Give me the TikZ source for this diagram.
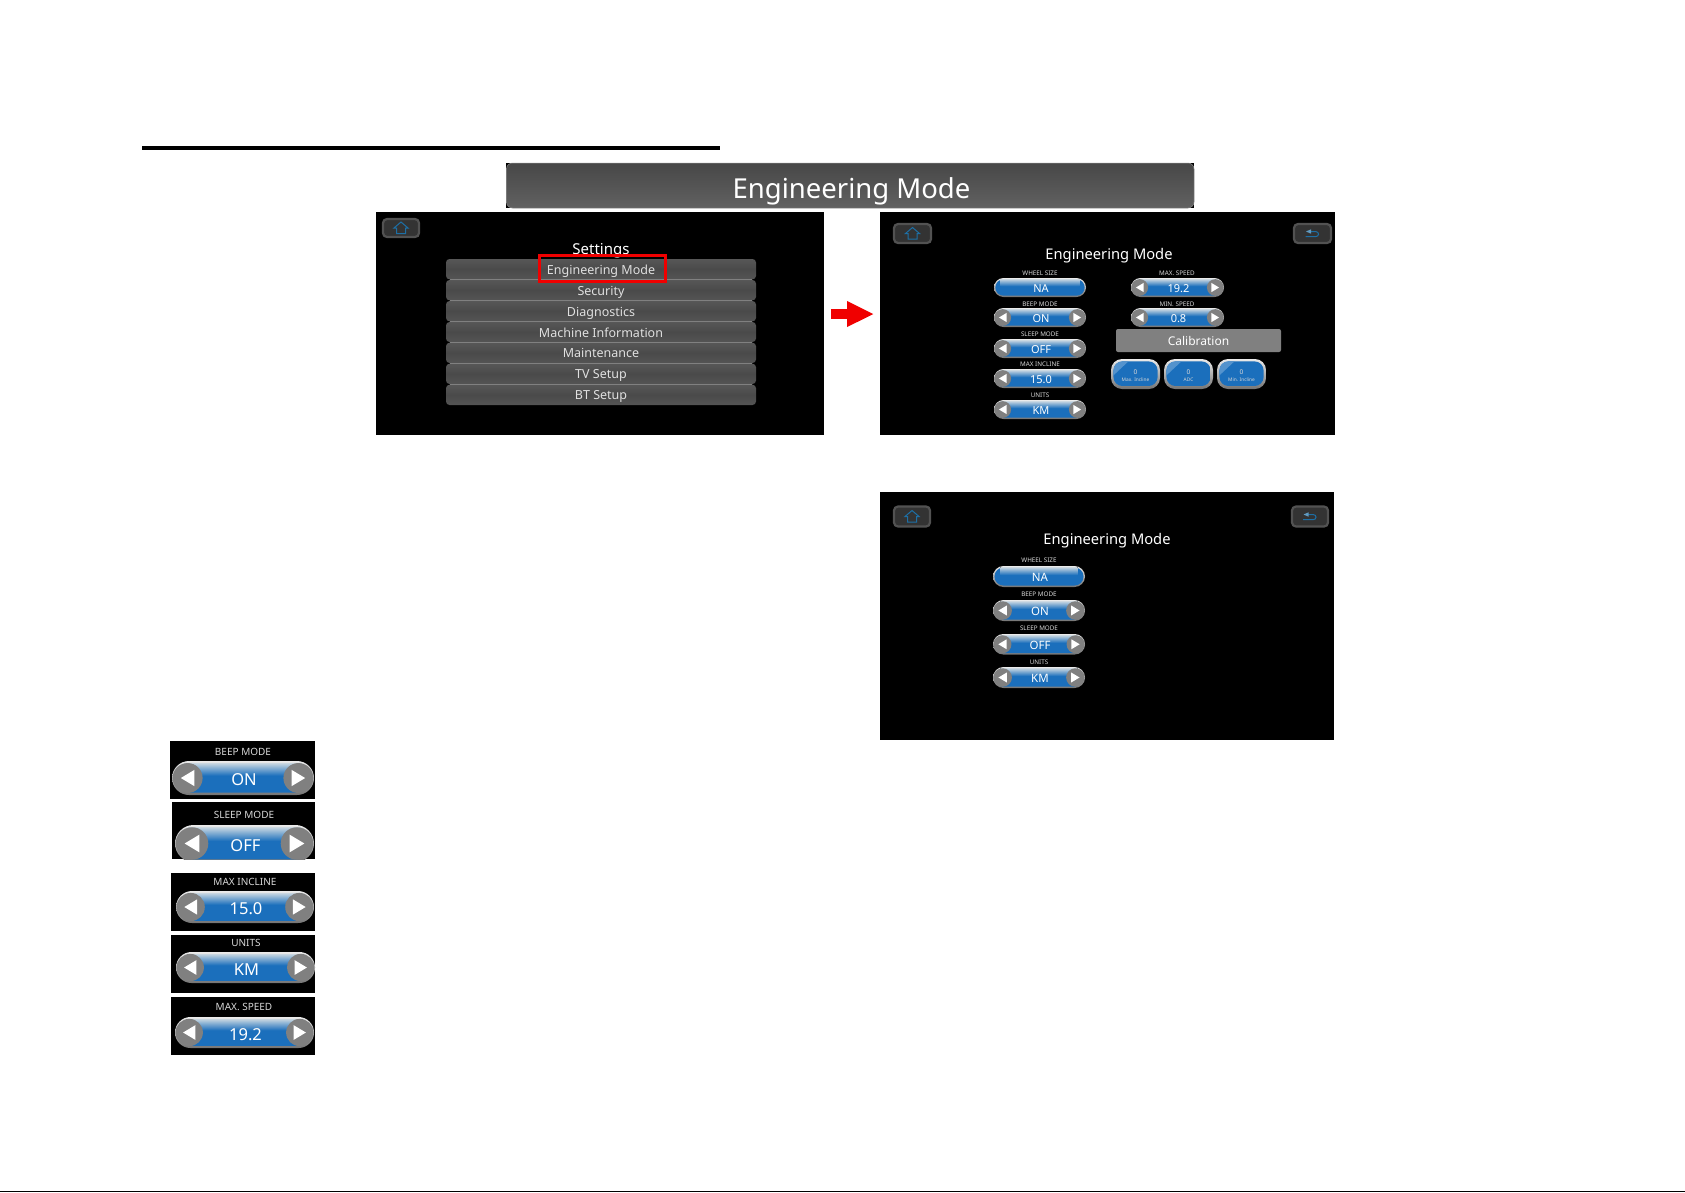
\documentclass[tikz,border=0pt]{standalone}
\usepackage{fontspec}
\setmainfont{Noto Sans}
\usetikzlibrary{arrows.meta}
\definecolor{uiblue}{HTML}{1B6FBC}
\definecolor{uihi}{HTML}{C4D4E0}
\definecolor{capgray}{HTML}{808080}
\definecolor{iconblue}{HTML}{1D6FA5}
\definecolor{lblgray}{HTML}{D8D8D8}
\definecolor{menutxt}{HTML}{E0E0E0}
\definecolor{uired}{HTML}{F00000}
\tikzset{
  screen/.style={fill=black},
  menurow/.style={rounded corners=3.5pt, top color=black!66, bottom color=black!67, middle color=black!71},
  silver/.style={top color=black!8, bottom color=black!55},
  calbar/.style={fill=capgray, rounded corners=2pt},
  keybtn/.style={fill=black!80, draw=black!68, line width=2.2pt, rounded corners=4pt},
  icon/.style={draw=iconblue, line width=1pt, line join=miter},
}
% generic box from corners: name, x1,y1,x2,y2, style, text
\newcommand{\rbox}[7][]{%
  \pgfmathsetmacro\myCx{(#3+#5)/2}\pgfmathsetmacro\myCy{(#4+#6)/2}%
  \pgfmathsetmacro\myW{#5-#3}\pgfmathsetmacro\myH{#6-#4}%
  \node[#7, minimum width=\myW pt, minimum height=\myH pt, inner sep=0pt, outer sep=0pt] (#2) at (\myCx,\myCy) {#1};}
% text on a baseline: name,x,base,size,colour,text
\newcommand{\lbl}[6]{\node[anchor=base, inner sep=0pt, text=#5, font=\fontsize{#4}{#4}\selectfont] (#1) at (#2,#3) {#6};}
% pill: name,x1,y1,x2,y2,size,text
\newcommand{\ctlpill}[7]{%
  \pgfmathsetmacro\myH{#5-#3}\pgfmathsetmacro\myR{\myH/2}\pgfmathsetmacro\myI{0.07*\myH}%
  \pgfmathsetmacro\mxA{#2+\myI}\pgfmathsetmacro\mxB{#4-\myI}\pgfmathsetmacro\myA{#3+\myI}\pgfmathsetmacro\myB{#5-\myI}%
  \pgfmathsetmacro\myRR{\myR-\myI}%
  \fill[silver, rounded corners=\myR pt] (#2,#3) rectangle (#4,#5);
  \fill[uiblue, rounded corners=\myRR pt] (\mxA,\myA) rectangle (\mxB,\myB);
  \pgfmathsetmacro\mhA{#2+0.35*\myH}\pgfmathsetmacro\mhB{#4-0.35*\myH}\pgfmathsetmacro\mhC{\myA+0.36*\myH}%
  \fill[top color=uihi, bottom color=uiblue] (\mhA,\myA) rectangle (\mhB,\mhC);
  \pgfmathsetmacro\myMx{(#2+#4)/2+1}\pgfmathsetmacro\myBase{(#3+#5)/2+0.46*#6}%
  \node[anchor=base, inner sep=0pt, text=white, font=\fontsize{#6}{#6}\selectfont] (#1) at (\myMx,\myBase) {#7};}
\newcommand{\ctlarrows}[4]{%
  \pgfmathsetmacro\myH{#4-#2}\pgfmathsetmacro\myRad{0.44*\myH}\pgfmathsetmacro\myCy{(#2+#4)/2}%
  \pgfmathsetmacro\mcL{#1+0.46*\myH}\pgfmathsetmacro\mcR{#3-0.46*\myH}%
  \pgfmathsetmacro\mtW{0.2*\myH}\pgfmathsetmacro\mtH{0.24*\myH}%
  \fill[capgray] (\mcL,\myCy) circle[radius=\myRad];
  \fill[capgray] (\mcR,\myCy) circle[radius=\myRad];
  \fill[white] (\mcL-\mtW,\myCy) -- (\mcL+\mtW,\myCy-\mtH) -- (\mcL+\mtW,\myCy+\mtH) -- cycle;
  \fill[white] (\mcR+\mtW,\myCy) -- (\mcR-\mtW,\myCy-\mtH) -- (\mcR-\mtW,\myCy+\mtH) -- cycle;}
% home / back keys: name,x1,y1,x2,y2
\newcommand{\homekey}[5]{%
  \rbox{#1}{#2}{#3}{#4}{#5}{keybtn}
  \begin{scope}[shift={(#1.center)}]
    \draw[icon] (0,-6) -- (7,0) -- (4.5,0) -- (4.5,5.5) -- (-4.5,5.5) -- (-4.5,0) -- (-7,0) -- cycle;
  \end{scope}}
\newcommand{\backkey}[5]{%
  \rbox{#1}{#2}{#3}{#4}{#5}{keybtn}
  \begin{scope}[shift={(#1.center)}]
    \draw[iconblue, line width=1pt] (-2,-2) -- (3,-2) .. controls (7,-2) and (7,3.2) .. (3,3.2) -- (-7,3.2);
    \fill[iconblue!70!white] (-6.5,-2) -- (-1.5,-4.2) -- (-1.5,0.2) -- cycle;
  \end{scope}}
% calibration key: name,x1,y1,x2,y2,value,caption
\newcommand{\calkey}[7]{%
  \fill[silver, rounded corners=11pt] (#2,#3) rectangle (#4,#5);
  \pgfmathsetmacro\mxA{#2+2.4}\pgfmathsetmacro\mxB{#4-2.4}\pgfmathsetmacro\myA{#3+2.4}\pgfmathsetmacro\myB{#5-3}%
  \begin{scope}
    \path[clip, rounded corners=9pt] (\mxA,\myA) rectangle (\mxB,\myB);
    \fill[uiblue] (\mxA,\myA) rectangle (\mxB,\myB);
    \fill[uiblue!75!white] (\mxA,\myA) -- (\mxA+15,\myA) -- (\mxA,\myA+14) -- cycle;
  \end{scope}
  \pgfmathsetmacro\myMx{(#2+#4)/2}%
  \lbl{#1v}{\myMx}{#3+15.5}{6.5}{lblgray}{#6}
  \lbl{#1c}{\myMx}{#3+22.5}{4.8}{lblgray}{#7}}
\begin{document}
\begin{tikzpicture}[x=1pt,y=-1pt]
\useasboundingbox (0,0) rectangle (1685,1192);
\fill[white] (0,0) rectangle (1685,1192);
% rules
\rbox{toprule}{142}{146}{720}{150}{fill=black}
\rbox{botrule}{0}{1190.6}{1685}{1192}{fill=black}
% banner
\rbox{bannerbg}{506}{163}{1194}{208}{fill=black}
\rbox{banner}{506.5}{163}{1194}{208}{rounded corners=6pt, top color=black!72, bottom color=black!62, draw=black!45, line width=0.5pt}
\lbl{bannertxt}{851.5}{198.5}{27.5}{white}{Engineering Mode}
% settings panel
\rbox{setpanel}{375.5}{211.5}{824}{435}{screen}
\homekey{sethome}{383}{219}{419}{237}
\lbl{settitle}{601}{254.5}{15}{white}{Settings}
\foreach \i/\ya/\yb/\t in {1/259/279.4/Engineering Mode,2/280/300.4/Security,3/301/321.4/Diagnostics,4/322/342/Machine Information,5/342.7/363/Maintenance,6/363.7/384/TV Setup,7/384.7/405/BT Setup}{
  \rbox{row\i}{446}{\ya}{756}{\yb}{menurow}
  \pgfmathsetmacro\myBs{(\ya+\yb)/2+5}
  \lbl{rowt\i}{601}{\myBs}{12.5}{menutxt}{\t}
}
\foreach \ya in {279.6,300.6,321.6,342.3,363.3,384.3}{\draw[black!50, line width=0.7pt] (450,\ya) -- (752,\ya);}
\rbox{redbox}{539.3}{255.3}{665.7}{281.7}{draw=uired, line width=2.6pt}
% arrow
\coordinate (arrowS) at (831,314);
\coordinate (arrowE) at (874,314);
\draw[uired, line width=9.5pt, -{Triangle[length=27pt,width=24pt]}] (arrowS) -- (arrowE);
% engineering panel 1
\rbox{empanel}{880}{212}{1335}{435}{screen}
\homekey{emhome}{894}{224}{931}{243}
\backkey{emback}{1294}{224}{1331}{243}
\lbl{emtitle}{1109}{259.5}{14.7}{white}{Engineering Mode}
\lbl{l1}{1040}{275.5}{6.3}{lblgray}{WHEEL SIZE}
\ctlpill{p1}{994}{278}{1086}{297}{11}{NA}
\lbl{l2}{1040}{306.5}{6.3}{lblgray}{BEEP MODE}
\ctlpill{p2}{994}{308}{1086}{327}{11}{ON}\ctlarrows{994}{308}{1086}{327}
\lbl{l3}{1040}{336.5}{6.3}{lblgray}{SLEEP MODE}
\ctlpill{p3}{994}{339}{1086}{358}{11}{OFF}\ctlarrows{994}{339}{1086}{358}
\lbl{l4}{1040}{366.5}{6.3}{lblgray}{MAX INCLINE}
\ctlpill{p4}{994}{369}{1086}{388}{11}{15.0}\ctlarrows{994}{369}{1086}{388}
\lbl{l5}{1040}{397.5}{6.3}{lblgray}{UNITS}
\ctlpill{p5}{994}{400}{1086}{419}{11}{KM}\ctlarrows{994}{400}{1086}{419}
\lbl{l6}{1177}{275.5}{6.3}{lblgray}{MAX. SPEED}
\ctlpill{p6}{1131}{278}{1224}{297}{11}{19.2}\ctlarrows{1131}{278}{1224}{297}
\lbl{l7}{1177}{306.5}{6.3}{lblgray}{MIN. SPEED}
\ctlpill{p7}{1131}{308}{1224}{327}{11}{0.8}\ctlarrows{1131}{308}{1224}{327}
\rbox{calbtn}{1116}{329}{1281}{352}{calbar}
\lbl{caltxt}{1198.5}{345.5}{12}{white}{Calibration}
\calkey{c1}{1111}{359}{1160}{389}{0}{Max. Incline}
\calkey{c2}{1164}{359}{1213}{389}{0}{ADC}
\calkey{c3}{1217}{359}{1266}{389}{0}{Min. Incline}
% engineering panel 2
\rbox{empanelb}{880}{492}{1334}{740}{screen}
\homekey{embhome}{894}{506.5}{930}{526.5}
\backkey{embback}{1292}{506.5}{1328}{526.5}
\lbl{embtitle}{1107}{544.5}{14.7}{white}{Engineering Mode}
\lbl{m1}{1039}{562.5}{6.3}{lblgray}{WHEEL SIZE}
\ctlpill{q1}{993}{566}{1085}{587}{11.5}{NA}
\lbl{m2}{1039}{596.5}{6.3}{lblgray}{BEEP MODE}
\ctlpill{q2}{993}{600}{1085}{621}{11.5}{ON}\ctlarrows{993}{600}{1085}{621}
\lbl{m3}{1039}{630}{6.3}{lblgray}{SLEEP MODE}
\ctlpill{q3}{993}{634}{1085}{654.5}{11.5}{OFF}\ctlarrows{993}{634}{1085}{654.5}
\lbl{m4}{1039}{664.5}{6.3}{lblgray}{UNITS}
\ctlpill{q4}{993}{667}{1085}{688}{11.5}{KM}\ctlarrows{993}{667}{1085}{688}
% legend crops
\rbox{legbeep}{170}{741}{315}{799}{screen}
\lbl{b1}{243}{755.5}{10}{lblgray}{BEEP MODE}
\ctlpill{b1p}{172}{761}{314}{795}{16.5}{ON}\ctlarrows{172}{761}{314}{795}
\rbox{legsleep}{172}{802}{315}{859}{screen}
\lbl{b2}{244}{818.5}{10}{lblgray}{SLEEP MODE}
\begin{scope}
  \clip (172,802) rectangle (315,859);
  \ctlpill{b2p}{175}{825}{314}{862}{16.5}{OFF}\ctlarrows{175}{825}{314}{862}
\end{scope}
\rbox{legincl}{171}{873}{315}{931}{screen}
\lbl{b3}{245}{885.5}{10}{lblgray}{MAX INCLINE}
\ctlpill{b3p}{176}{891}{314}{923}{16.5}{15.0}\ctlarrows{176}{891}{314}{923}
\rbox{legunits}{171}{935}{315}{993}{screen}
\lbl{b4}{246}{946}{10}{lblgray}{UNITS}
\ctlpill{b4p}{176}{952}{315}{983}{16.5}{KM}\ctlarrows{176}{952}{315}{983}
\rbox{legspeed}{171}{997}{315}{1055}{screen}
\lbl{b5}{244}{1010.5}{10}{lblgray}{MAX. SPEED}
\ctlpill{b5p}{175}{1017}{314}{1048}{16.5}{19.2}\ctlarrows{175}{1017}{314}{1048}
\end{tikzpicture}
\end{document}
